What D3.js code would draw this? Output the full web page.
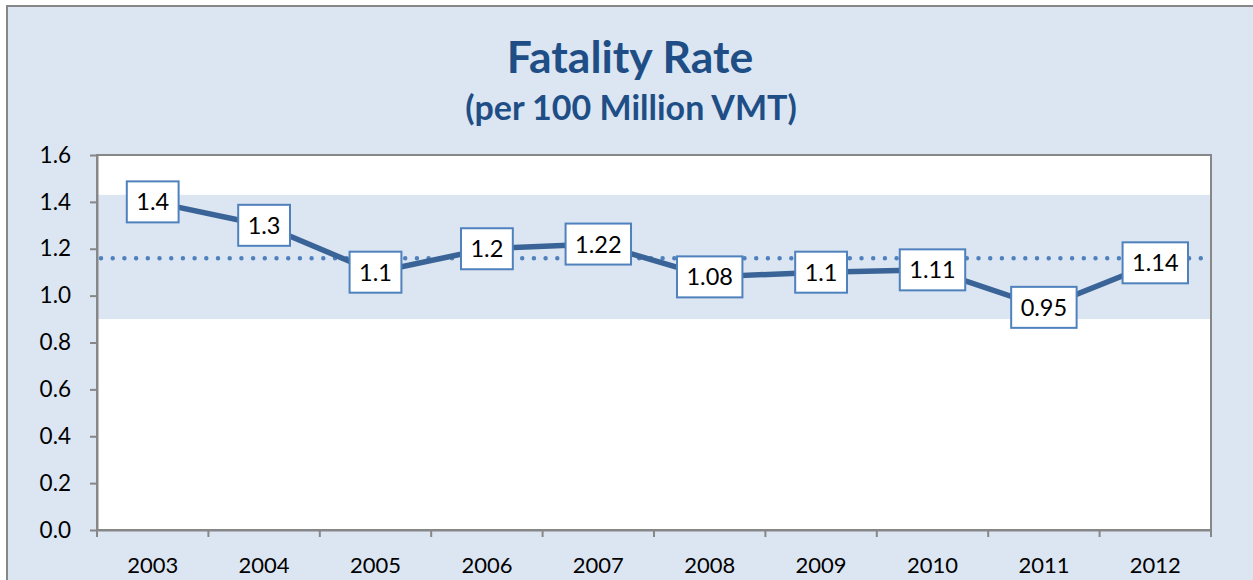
<!DOCTYPE html>
<html>
<head>
<meta charset="utf-8">
<script src="https://cdn.jsdelivr.net/npm/d3@7"></script>
<style>
  body { margin: 0; background: #fff; }
  text { font-family: Lato, "Open Sans", sans-serif; }
</style>
</head>
<body>
<script>
// chart values
const years = ["2003", "2004", "2005", "2006", "2007", "2008", "2009", "2010", "2011", "2012"];
const rates = [1.4, 1.3, 1.1, 1.2, 1.22, 1.08, 1.1, 1.11, 0.95, 1.14];
const rateLabels = ["1.4", "1.3", "1.1", "1.2", "1.22", "1.08", "1.1", "1.11", "0.95", "1.14"];
const yTicks = [0, 0.2, 0.4, 0.6, 0.8, 1.0, 1.2, 1.4, 1.6];
const band = [0.9, 1.43];     // shaded range
const average = 1.16;         // dotted reference line

const width = 1253, height = 580;
const margin = { top: 155, right: 42, bottom: 50, left: 97 };

let svg = d3.select("body")
            .append("svg")
              .attr("width", width)
              .attr("height", height);

// outer frame
svg.append("rect")
    .attr("x", 7).attr("y", 6)
    .attr("width", width + 10).attr("height", height + 10)
    .attr("fill", "#dce6f2")
    .attr("stroke", "#878787")
    .attr("stroke-width", 2);

let xScale = d3.scaleBand()
                .domain(years)
                .range([margin.left, width - margin.right]);

let yScale = d3.scaleLinear()
                .domain([0, 1.6])
                .range([height - margin.bottom, margin.top]);

// plot area
svg.append("rect")
    .attr("x", margin.left).attr("y", margin.top)
    .attr("width", width - margin.right - margin.left)
    .attr("height", height - margin.bottom - margin.top)
    .attr("fill", "#fff")
    .attr("stroke", "#878787")
    .attr("stroke-width", 2);

// shaded band
svg.append("rect")
    .attr("x", margin.left + 1)
    .attr("y", yScale(band[1]))
    .attr("width", width - margin.right - margin.left - 2)
    .attr("height", yScale(band[0]) - yScale(band[1]))
    .attr("fill", "#dce6f2");

// axes
let yAxis = svg.append("g")
    .attr("transform", `translate(${margin.left},0)`)
    .call(d3.axisLeft(yScale).tickValues(yTicks).tickFormat(d3.format(".1f")).tickSize(7).tickSizeOuter(0));

let xAxis = svg.append("g")
    .attr("transform", `translate(0,${height - margin.bottom})`)
    .call(d3.axisBottom(xScale).tickSize(0).tickSizeOuter(0));

// boundary ticks between categories
xAxis.selectAll(".bnd")
    .data(years.concat(["end"]))
    .enter()
    .append("line")
      .attr("class", "bnd")
      .attr("x1", (d, i) => margin.left + i * xScale.step())
      .attr("x2", (d, i) => margin.left + i * xScale.step())
      .attr("y1", 0).attr("y2", 7)
      .attr("stroke", "#878787").attr("stroke-width", 2);

[yAxis, xAxis].forEach(a => {
  a.select(".domain").attr("stroke", "#878787").attr("stroke-width", 2);
  a.selectAll(".tick line").attr("stroke", "#878787").attr("stroke-width", 2);
  a.selectAll("text").attr("fill", "#000")
    .style("font-family", "Lato, sans-serif");
});
yAxis.selectAll("text").attr("x", -26).attr("font-size", "22.5px");
xAxis.selectAll("text").attr("dy", "0").attr("y", 43).attr("font-size", "22px");

// dotted average line
svg.append("line")
    .attr("x1", margin.left + 4)
    .attr("x2", width - margin.right - 4)
    .attr("y1", yScale(average))
    .attr("y2", yScale(average))
    .attr("stroke", "#4f81bd")
    .attr("stroke-width", 4.5)
    .attr("stroke-linecap", "round")
    .attr("stroke-dasharray", "0 11.7");

// series line
let line = d3.line()
    .x((d, i) => xScale(years[i]) + xScale.bandwidth() / 2)
    .y((d) => yScale(d));

svg.append("path")
    .datum(rates)
    .attr("d", line)
    .attr("fill", "none")
    .attr("stroke", "#3a6497")
    .attr("stroke-width", 5.5)
    .attr("stroke-linejoin", "round");

// data labels
let labels = svg.selectAll(".lbl")
    .data(rates)
    .enter()
    .append("g")
      .attr("class", "lbl")
      .attr("transform", (d, i) => `translate(${xScale(years[i]) + xScale.bandwidth() / 2},${yScale(d)})`);

let boxes = labels.append("rect")
    .attr("fill", "#fff")
    .attr("stroke", "#4f81bd")
    .attr("stroke-width", 2);

let texts = labels.append("text")
    .attr("text-anchor", "middle")
    .attr("dy", "0.36em")
    .attr("font-size", "23.5px")
    .attr("fill", "#000")
    .text((d, i) => rateLabels[i]);

texts.each(function (d, i) {
  let w = this.getComputedTextLength() + 19;
  d3.select(boxes.nodes()[i])
    .attr("x", -w / 2).attr("y", -20.5)
    .attr("width", w).attr("height", 41);
});

// titles
svg.append("text")
    .attr("x", 630).attr("y", 73)
    .attr("text-anchor", "middle")
    .attr("font-size", "44.5px")
    .attr("font-weight", "bold")
    .attr("fill", "#1f4e86")
    .text("Fatality Rate");

svg.append("text")
    .attr("x", 631).attr("y", 120)
    .attr("text-anchor", "middle")
    .attr("font-size", "34px")
    .attr("font-weight", "bold")
    .attr("fill", "#1f4e86")
    .text("(per 100 Million VMT)");
</script>
</body>
</html>
